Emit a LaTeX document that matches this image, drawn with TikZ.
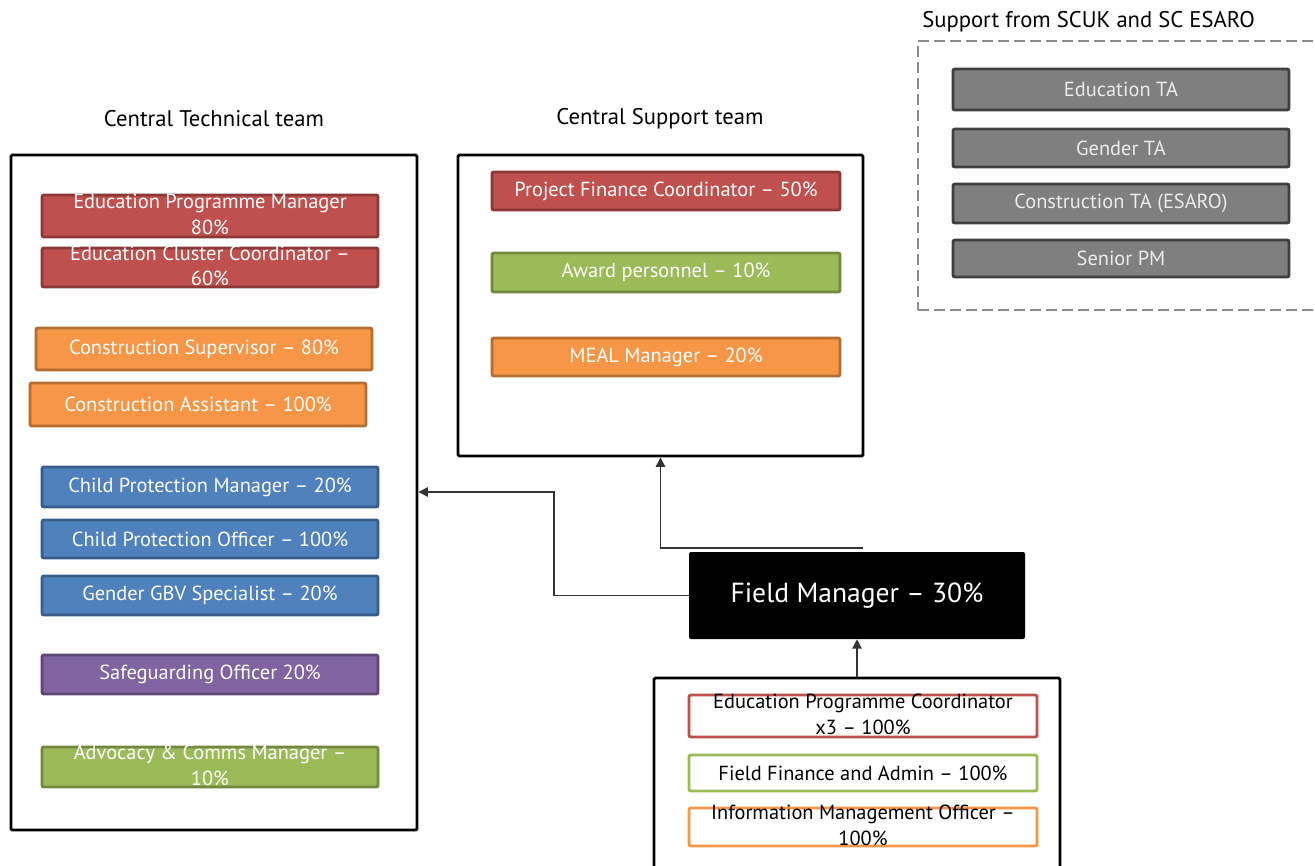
\documentclass[tikz,border=0pt]{standalone}
\usepackage{fontspec}
\setmainfont{PT Sans}
\usetikzlibrary{arrows.meta}
\definecolor{cred}{HTML}{C0504D}
\definecolor{credd}{HTML}{8C3836}
\definecolor{corange}{HTML}{F79646}
\definecolor{corangee}{HTML}{B66D31}
\definecolor{cblue}{HTML}{4F81BD}
\definecolor{cbluee}{HTML}{385D8A}
\definecolor{cpurple}{HTML}{8064A2}
\definecolor{cpurplee}{HTML}{5C4776}
\definecolor{cgreen}{HTML}{9BBB59}
\definecolor{cgreenn}{HTML}{71893F}
\definecolor{cgray}{HTML}{7F7F7F}
\definecolor{cgrayy}{HTML}{3F3F3F}
\definecolor{cdash}{HTML}{8C8C8C}
\newcommand{\twoline}[2]{\raisebox{-0.5em}{\smash{\begin{tabular}[c]{@{}c@{}}#1\\#2\end{tabular}}}}
\tikzset{
  wh/.style 2 args={minimum width=#1*0.75pt, minimum height=#2*0.75pt},
  rolebox/.style={rectangle, rounded corners=1.5pt, line width=2.2pt, inner sep=0pt,
    font=\fontsize{15.3}{19}\selectfont, text=white},
  redb/.style={rolebox, fill=cred, draw=credd},
  orangeb/.style={rolebox, fill=corange, draw=corangee},
  blueb/.style={rolebox, fill=cblue, draw=cbluee},
  purpleb/.style={rolebox, fill=cpurple, draw=cpurplee},
  greenb/.style={rolebox, fill=cgreen, draw=cgreenn},
  grayb/.style={rolebox, fill=cgray, draw=cgrayy, text=white!92!black},
  outb/.style={rolebox, fill=white, text=black},
  team/.style={rectangle, draw=black, line width=2.2pt, rounded corners=1pt, inner sep=0pt},
  heading/.style={font=\fontsize{17}{20}\selectfont, text=black, inner sep=0pt},
  conn/.style={draw=black!80, line width=1pt, -{Triangle[length=7pt,width=7pt]}},
}
\begin{document}
\begin{tikzpicture}[x=0.75pt, y=-0.75pt]
\useasboundingbox (0,0) rectangle (1315,865);

% headings
\node[heading] (hct) at (214,119) {Central Technical team};
\node[heading] (hcs) at (660,119) {Central Support team};
\node[heading, anchor=west] (hsup) at (922,22) {Support from SCUK and SC ESARO};

% team containers
\node[team, wh={406}{675}] (ct) at (214,492.5) {};
\node[team, wh={405}{301}] (cs) at (660.5,305.5) {};
\node[rectangle, draw=cdash, line width=2.2pt, dashed, dash pattern=on 8pt off 4pt, inner sep=0pt, wh={407}{269}] (sup) at (1121.5,175.5) {};
\node[team, wh={406}{202}] (bt) at (857,779) {};

% central technical team
\node[redb, wh={336}{42}] (epm) at (210,216) {\twoline{Education Programme Manager}{80\%}};
\node[redb, wh={336}{39}] (ecc) at (210,267.5) {\twoline{Education Cluster Coordinator –}{60\%}};
\node[orangeb, wh={336}{42}] (csu) at (204,349) {Construction Supervisor – 80\%};
\node[orangeb, wh={336}{43}] (cas) at (198,404.5) {Construction Assistant – 100\%};
\node[blueb, wh={336}{40}] (cpm) at (210,487) {Child Protection Manager – 20\%};
\node[blueb, wh={336}{38}] (cpo) at (210,539) {Child Protection Officer – 100\%};
\node[blueb, wh={336}{39}] (gbv) at (210,595.5) {Gender GBV Specialist – 20\%};
\node[purpleb, wh={336}{39}] (sgo) at (210,674.5) {Safeguarding Officer 20\%};
\node[greenb, wh={336}{40}] (acm) at (210,767) {\twoline{Advocacy \& Comms Manager –}{10\%}};

% central support team
\node[redb, wh={348}{38}] (pfc) at (666,191) {Project Finance Coordinator – 50\%};
\node[greenb, wh={348}{39}] (awp) at (666,272.5) {Award personnel – 10\%};
\node[orangeb, wh={348}{38}] (meal) at (666,357) {MEAL Manager – 20\%};

% support from SCUK
\node[grayb, wh={336}{41}] (eta) at (1121,89.5) {Education TA};
\node[grayb, wh={336}{38}] (gta) at (1121,148) {Gender TA};
\node[grayb, wh={336}{39}] (cta) at (1121,203.5) {Construction TA (ESARO)};
\node[grayb, wh={336}{37}] (spm) at (1121,258.5) {Senior PM};

% field manager
\node[rectangle, fill=black, rounded corners=1.5pt, text=white, inner sep=0pt, wh={336}{87},
  font=\fontsize{20.7}{24}\selectfont] (fm) at (857,595.5) {Field Manager – 30\%};

% field team
\node[outb, draw=cred, wh={348}{42}] (epc) at (863,716) {\twoline{Education Programme Coordinator}{x3 – 100\%}};
\node[outb, draw=cgreen, wh={348}{36}] (ffa) at (863,773) {Field Finance and Admin – 100\%};
\node[outb, draw=corange, wh={348}{38}] (imo) at (863,827) {\twoline{Information Management Officer –}{100\%}};

% connectors
\coordinate (j1) at (554,492);
\coordinate (s0) at (863,548);
\draw[conn] (fm.west) -| (j1) -- (ct.east |- j1);
\draw[conn] (s0) -| (cs.south);
\draw[conn] (bt.north) -- (fm.south);
\end{tikzpicture}
\end{document}
